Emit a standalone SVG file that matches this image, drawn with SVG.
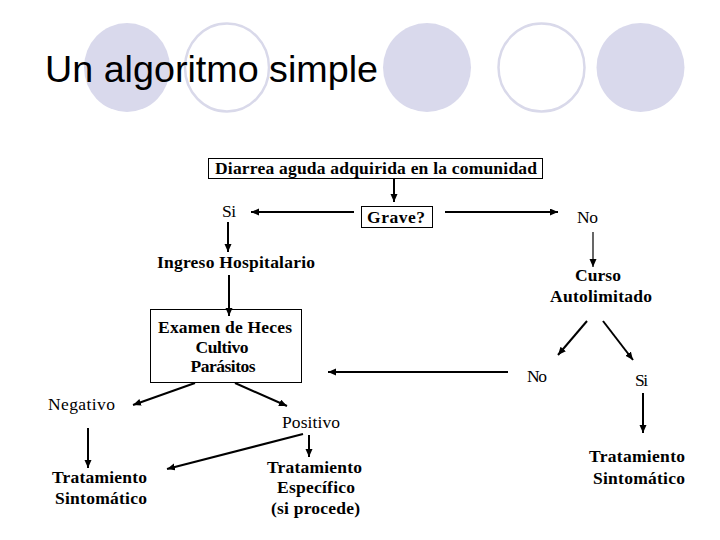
<svg xmlns="http://www.w3.org/2000/svg" width="720" height="540" viewBox="0 0 720 540">
<style>
.bg{fill:#ffffff}
.dotf{fill:#d9d9ec}
.doto{fill:#ffffff;stroke:#d9d9ea;stroke-width:2.5}
.title{font-family:'Liberation Sans',Arial,sans-serif;font-size:37px;fill:#000}
.b{font-family:'Liberation Serif','Times New Roman',Times,serif;font-weight:700;font-size:17.5px;fill:#000;text-anchor:middle}
.r{font-family:'Liberation Serif','Times New Roman',Times,serif;font-size:17.5px;fill:#000;text-anchor:middle}
.box{fill:none;stroke:#000;stroke-width:1}
.c{stroke:#000;stroke-width:2;fill:none;marker-end:url(#ah)}
.thin{stroke-width:1.2}
</style>
<defs>
<marker id="ah" markerUnits="userSpaceOnUse" markerWidth="9" markerHeight="8" refX="8" refY="3.5" orient="auto">
<path d="M0,0 L8,3.5 L0,7 z" fill="#000"/>
</marker>
</defs>
<rect class="bg" x="0" y="0" width="720" height="540"/>
<g id="decor">
<ellipse class="dotf" cx="127" cy="67.5" rx="43" ry="44.5"/>
<ellipse class="doto" cx="227" cy="67.5" rx="42" ry="44"/>
<ellipse class="dotf" cx="427" cy="67.5" rx="44" ry="44.5"/>
<ellipse class="doto" cx="541.5" cy="67.5" rx="43" ry="44"/>
<ellipse class="dotf" cx="640.5" cy="67.5" rx="44" ry="44.5"/>
</g>
<text id="title" class="title" x="45" y="82" textLength="333" lengthAdjust="spacingAndGlyphs">Un algoritmo simple</text>
<g id="n-diarrea">
<rect class="box" x="208.5" y="158.5" width="334" height="20"/>
<text class="b" x="376" y="174" textLength="322" lengthAdjust="spacing">Diarrea aguda adquirida en la comunidad</text>
</g>
<g id="n-grave">
<rect class="box" x="361.5" y="206.5" width="71" height="21"/>
<text class="b" x="396" y="223" textLength="58" lengthAdjust="spacing">Grave?</text>
</g>
<g id="n-si1"><text class="r" x="229" y="217" textLength="14" lengthAdjust="spacing">Si</text></g>
<g id="n-no1"><text class="r" x="587.5" y="223" textLength="21" lengthAdjust="spacing">No</text></g>
<g id="n-ingreso"><text class="b" x="236" y="268" textLength="158" lengthAdjust="spacing">Ingreso Hospitalario</text></g>
<g id="n-curso">
<text class="b" x="598" y="281" textLength="46" lengthAdjust="spacing">Curso</text>
<text class="b" x="601" y="302" textLength="102" lengthAdjust="spacing">Autolimitado</text>
</g>
<g id="n-examen">
<rect class="box" x="150.5" y="309.5" width="151" height="73"/>
<text class="b" x="225" y="333" textLength="134" lengthAdjust="spacing">Examen de Heces</text>
<text class="b" x="222" y="353" textLength="53" lengthAdjust="spacing">Cultivo</text>
<text class="b" x="223" y="372" textLength="65" lengthAdjust="spacing">Parásitos</text>
</g>
<g id="n-no2"><text class="r" x="537" y="382" textLength="20" lengthAdjust="spacing">No</text></g>
<g id="n-si2"><text class="r" x="641.5" y="386" textLength="13" lengthAdjust="spacing">Si</text></g>
<g id="n-negativo"><text class="r" x="81.5" y="410" textLength="67" lengthAdjust="spacing">Negativo</text></g>
<g id="n-positivo"><text class="r" x="311" y="428" textLength="58" lengthAdjust="spacing">Positivo</text></g>
<g id="n-trat-sint-left">
<text class="b" x="99.5" y="483" textLength="95" lengthAdjust="spacing">Tratamiento</text>
<text class="b" x="101" y="504" textLength="92" lengthAdjust="spacing">Sintomático</text>
</g>
<g id="n-trat-esp">
<text class="b" x="314.5" y="473" textLength="95" lengthAdjust="spacing">Tratamiento</text>
<text class="b" x="316" y="493" textLength="78" lengthAdjust="spacing">Específico</text>
<text class="b" x="315.5" y="514" textLength="89" lengthAdjust="spacing">(si procede)</text>
</g>
<g id="n-trat-sint-right">
<text class="b" x="637" y="462" textLength="96" lengthAdjust="spacing">Tratamiento</text>
<text class="b" x="639" y="484" textLength="92" lengthAdjust="spacing">Sintomático</text>
</g>
<g id="connectors">
<line class="c" x1="394" y1="178" x2="394" y2="202"/>
<line class="c" x1="354" y1="212" x2="251" y2="212"/>
<line class="c" x1="445" y1="212" x2="558" y2="212"/>
<line class="c" x1="228" y1="222" x2="228" y2="252"/>
<line class="c thin" x1="593" y1="232" x2="593" y2="267"/>
<line class="c" x1="229" y1="275" x2="229" y2="316"/>
<line class="c" x1="508" y1="372" x2="328" y2="372"/>
<line class="c" x1="587" y1="321" x2="558" y2="355"/>
<line class="c" x1="603" y1="321" x2="633" y2="360"/>
<line class="c" x1="643" y1="393" x2="643" y2="433"/>
<line class="c" x1="195" y1="383" x2="133" y2="405"/>
<line class="c" x1="235" y1="383" x2="287" y2="406"/>
<line class="c" x1="88" y1="428" x2="88" y2="468"/>
<line class="c" x1="303" y1="434" x2="167" y2="469"/>
<line class="c" x1="309" y1="435" x2="309" y2="457"/>
</g>
</svg>
